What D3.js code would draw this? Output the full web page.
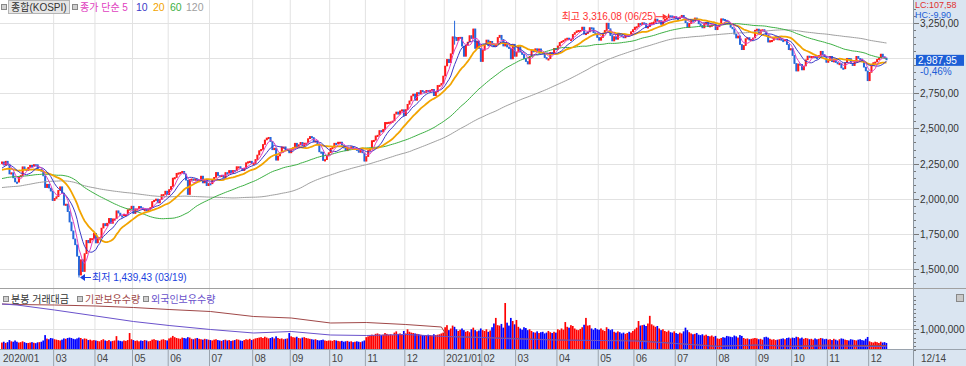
<!DOCTYPE html>
<html>
<head>
<meta charset="utf-8">
<script src="https://cdn.jsdelivr.net/npm/d3@7"></script>
<style>
body { margin: 0; background: #fff; }
svg { display: block; font-family: "Liberation Sans", "Noto Sans CJK KR", sans-serif; }
</style>
</head>
<body>
<svg id="chart" width="966" height="366"></svg>
<script>
// closes before the visible window (only used to warm up the moving averages)
var priorCloses = [2094, 2101, 2074, 2066, 2029, 2038, 2024,
  2017, 1998, 1946, 1917, 1909, 1920, 1943, 1943, 1925, 1938, 1927, 1939, 1960, 1964, 1951, 1948, 1916, 1933, 1960, 1933, 1967,
  1969, 1965, 1988, 2004, 2009, 2019, 2032, 2049, 2062, 2062, 2070, 2091, 2101, 2091, 2096, 2073, 2063, 2049, 2063,
  2031, 2020, 2021, 2046, 2045, 2083, 2081, 2068, 2077, 2060, 2083, 2088, 2088, 2096, 2093, 2080, 2092, 2083, 2063, 2073, 2083,
  2100, 2130, 2144, 2142, 2137, 2142, 2124, 2140, 2122, 2139, 2162, 2160, 2127, 2116, 2126, 2101, 2124, 2122, 2101, 2087, 2087,
  2091, 2068, 2069, 2082, 2102, 2105, 2098, 2106, 2137, 2170, 2168, 2197, 2201, 2195, 2204, 2190, 2204, 2197, 2198,
  2175, 2176, 2155, 2175, 2186, 2206, 2229, 2238, 2230, 2249, 2250];

// daily closes, one array per month
var c2020_01 = [2262, 2239, 2267, 2246, 2176, 2185, 2148, 2119];
var c2020_02 = [2118, 2157, 2165, 2227, 2211, 2201, 2223, 2238, 2232, 2243, 2242, 2208, 2210, 2195, 2162, 2079, 2103, 2076, 2054, 1987];
var c2020_03 = [2002, 2014, 2059, 2085, 2040, 1954, 1962, 1908, 1834, 1771, 1714, 1672, 1591, 1457, 1566, 1482, 1609, 1704, 1686, 1717, 1717, 1754];
var c2020_04 = [1685, 1724, 1725, 1791, 1823, 1807, 1826, 1860, 1825, 1857, 1857, 1914, 1898, 1879, 1878, 1889, 1889, 1922, 1928, 1947];
var c2020_05 = [1895, 1928, 1928, 1945, 1935, 1922, 1924, 1915, 1927, 1937, 1980, 1989, 1998, 1970, 1994, 2029, 2031, 2054, 2029];
var c2020_06 = [2065, 2087, 2147, 2151, 2181, 2184, 2188, 2195, 2176, 2132, 2030, 2138, 2141, 2131, 2141, 2126, 2131, 2161, 2112, 2134, 2093, 2108];
var c2020_07 = [2106, 2135, 2152, 2187, 2165, 2164, 2167, 2150, 2186, 2183, 2201, 2183, 2201, 2198, 2228, 2228, 2216, 2200, 2217, 2256, 2263, 2267, 2249];
var c2020_08 = [2251, 2279, 2311, 2342, 2351, 2386, 2418, 2432, 2437, 2407, 2348, 2360, 2274, 2304, 2329, 2369, 2369, 2342, 2353, 2326];
var c2020_09 = [2349, 2363, 2395, 2368, 2384, 2401, 2375, 2396, 2396, 2427, 2443, 2435, 2406, 2412, 2389, 2333, 2332, 2272, 2278, 2308, 2327];
var c2020_10 = [2358, 2365, 2395, 2391, 2403, 2403, 2380, 2361, 2341, 2360, 2358, 2370, 2355, 2360, 2343, 2330, 2345, 2326, 2267];
var c2020_11 = [2300, 2343, 2357, 2413, 2416, 2447, 2452, 2485, 2475, 2493, 2543, 2543, 2545, 2547, 2553, 2602, 2617, 2601, 2625, 2633, 2591];
var c2020_12 = [2634, 2672, 2696, 2731, 2745, 2700, 2755, 2746, 2770, 2762, 2756, 2771, 2770, 2772, 2778, 2733, 2759, 2806, 2808, 2820, 2873];
var c2021_01 = [2944, 2991, 2968, 3031, 3152, 3148, 3125, 3148, 3149, 3085, 3013, 3092, 3114, 3160, 3140, 3208, 3069, 3122, 3069, 2976];
var c2021_02 = [3056, 3096, 3129, 3087, 3120, 3091, 3084, 3100, 3147, 3163, 3133, 3086, 3107, 3079, 3070, 2994, 3099, 3013];
var c2021_03 = [3043, 3082, 3043, 3026, 2996, 2976, 2958, 3013, 3054, 3045, 3067, 3047, 3066, 3039, 3035, 3004, 2996, 2996, 3041, 3036, 3070, 3061];
var c2021_04 = [3087, 3112, 3120, 3127, 3137, 3143, 3131, 3135, 3169, 3182, 3194, 3198, 3198, 3221, 3171, 3177, 3186, 3217, 3215, 3181, 3174, 3147];
var c2021_05 = [3127, 3147, 3178, 3197, 3249, 3209, 3161, 3122, 3153, 3134, 3173, 3162, 3156, 3144, 3163, 3168, 3165, 3188, 3203];
var c2021_06 = [3221, 3224, 3247, 3240, 3252, 3247, 3216, 3224, 3249, 3252, 3255, 3278, 3264, 3267, 3240, 3263, 3276, 3286, 3302, 3301, 3286, 3296];
var c2021_07 = [3282, 3281, 3293, 3305, 3285, 3252, 3217, 3247, 3271, 3264, 3286, 3276, 3244, 3232, 3215, 3250, 3254, 3224, 3232, 3236, 3243, 3202];
var c2021_08 = [3223, 3237, 3280, 3276, 3270, 3260, 3243, 3220, 3208, 3171, 3143, 3158, 3097, 3060, 3090, 3138, 3146, 3128, 3133, 3144, 3199];
var c2021_09 = [3207, 3175, 3201, 3203, 3187, 3162, 3114, 3125, 3127, 3148, 3153, 3130, 3140, 3127, 3125, 3133, 3097, 3060, 3068];
var c2021_10 = [3019, 2962, 2908, 2959, 2956, 2916, 2944, 2988, 3015, 3006, 3013, 3013, 3007, 3006, 3020, 3049, 3025, 3009, 2970];
var c2021_11 = [2983, 3013, 2975, 2983, 2969, 2960, 2963, 2930, 2924, 2968, 2999, 2997, 2962, 2947, 2971, 3013, 2998, 2994, 2980, 2936, 2909, 2839];
var c2021_12 = [2899, 2945, 2968, 2973, 2991, 3001, 3029, 3010, 3001, 2987.95];

// daily trading value, in units of 10,000
var v2020_01 = [36, 40, 34, 38, 48, 42, 40, 46];
var v2020_02 = [40, 36, 38, 42, 38, 34, 34, 36, 38, 35, 33, 37, 38, 40, 46, 72, 55, 52, 58, 56];
var v2020_03 = [52, 50, 48, 46, 50, 56, 54, 58, 60, 58, 54, 52, 56, 60, 58, 52, 56, 54, 48, 50, 46, 48];
var v2020_04 = [46, 44, 42, 48, 52, 46, 44, 48, 42, 44, 46, 67, 46, 44, 42, 46, 44, 48, 82, 52];
var v2020_05 = [48, 44, 46, 42, 46, 44, 48, 46, 42, 44, 50, 52, 48, 46, 44, 50, 52, 48, 46];
var v2020_06 = [56, 60, 68, 62, 58, 56, 54, 60, 58, 56, 62, 60, 54, 52, 56, 58, 54, 52, 50, 54, 52, 50];
var v2020_07 = [48, 46, 50, 52, 48, 46, 44, 48, 50, 46, 48, 44, 46, 48, 52, 50, 46, 44, 48, 52, 50, 54, 48];
var v2020_08 = [52, 56, 58, 60, 62, 58, 64, 60, 56, 58, 62, 56, 66, 58, 54, 56, 52, 54, 56, 82];
var v2020_09 = [66, 62, 60, 64, 58, 56, 60, 62, 58, 56, 54, 52, 50, 52, 48, 46, 48, 50, 46, 44, 46];
var v2020_10 = [46, 44, 48, 46, 44, 42, 44, 40, 42, 44, 40, 42, 38, 40, 42, 40, 38, 42, 46];
var v2020_11 = [62, 66, 70, 74, 72, 78, 80, 76, 72, 74, 82, 78, 74, 76, 72, 84, 90, 78, 80, 76, 92];
var v2020_12 = [80, 100, 88, 84, 82, 80, 78, 76, 74, 72, 70, 72, 74, 72, 70, 76, 72, 74, 76, 80, 84];
var v2021_01 = [110, 120, 96, 104, 118, 112, 100, 92, 98, 104, 96, 88, 92, 86, 100, 108, 96, 90, 94, 104];
var v2021_02 = [96, 92, 100, 88, 94, 110, 128, 155, 120, 118, 126, 108, 227, 132, 118, 155, 140, 124];
var v2021_03 = [145, 112, 104, 98, 110, 106, 96, 100, 92, 86, 84, 90, 82, 86, 88, 80, 84, 92, 86, 82, 88, 84];
var v2021_04 = [100, 96, 104, 98, 135, 112, 108, 120, 116, 104, 98, 96, 102, 110, 122, 155, 118, 120, 104, 98, 106, 100];
var v2021_05 = [98, 104, 96, 92, 110, 102, 96, 100, 88, 84, 90, 86, 80, 84, 78, 82, 88, 84, 92];
var v2021_06 = [100, 108, 140, 118, 120, 122, 116, 128, 165, 124, 118, 112, 116, 104, 96, 100, 92, 88, 94, 86, 84, 90];
var v2021_07 = [82, 78, 84, 80, 90, 108, 96, 86, 80, 76, 78, 82, 74, 72, 76, 70, 74, 68, 66, 70, 64, 68];
var v2021_08 = [56, 54, 58, 62, 60, 68, 66, 64, 62, 70, 66, 60, 72, 68, 58, 54, 56, 52, 54, 56, 58];
var v2021_09 = [56, 52, 54, 50, 62, 64, 60, 54, 50, 52, 48, 50, 52, 54, 56, 52, 58, 60, 56];
var v2021_10 = [60, 58, 64, 62, 56, 60, 54, 58, 56, 52, 54, 50, 56, 52, 54, 58, 56, 52, 54];
var v2021_11 = [50, 52, 48, 54, 50, 46, 52, 56, 54, 50, 48, 46, 52, 50, 48, 46, 50, 52, 48, 46, 54, 63];
var v2021_12 = [42, 38, 36, 40, 38, 34, 40, 36, 38, 34];

var monthLabels = ["2020/01", "", "03", "04", "05", "06", "07", "08", "09", "10", "11", "12",
                   "2021/01", "02", "03", "04", "05", "06", "07", "08", "09", "10", "11", "12"];

// wicks beyond the body: [month, day in month, high, low]
var notableWicks = [[2, 13, 1591, 1439.43], [5, 10, 2132, 2030], [12, 5, 3266, 3096], [17, 18, 3316.08, 3286]];

// holdings lines in the lower panel: [month, day in month, value]
var instHold = [[0,0,92],[1,0,91],[2,0,90],[3,0,88],[4,0,85],[5,0,81],[6,0,77],[7,0,67],[8,0,64],[9,0,54],[10,0,55],[11,0,51],
                [11,19,46],[12,1,27],[13,0,25],[14,0,23],[15,0,20],[16,0,19],[17,0,20],[18,0,13],[19,0,8],[20,0,10],[21,0,8],[22,0,10],[23,0,9],[23,9,9]];
var foreignHold = [[0,0,92],[1,0,90],[2,0,80],[3,0,68],[4,0,57],[5,0,49],[6,0,41],[7,0,34],[8,0,37],[9,0,30],[10,0,29],[11,0,31],
                   [12,0,27],[13,0,25],[14,0,22],[15,0,20],[16,0,19],[17,0,18],[18,0,13],[19,0,7],[20,0,10],[21,0,7],[22,0,8],[23,0,7],[23,9,7]];

var priceTicks = [1500, 1750, 2000, 2250, 2500, 2750, 3000, 3250];
var maPeriods = [5, 10, 20, 60, 120];
var maColors  = ["#e040c0", "#3a3ac8", "#f2a400", "#3cb043", "#a0a0a0"];

var closeMonths = [c2020_01, c2020_02, c2020_03, c2020_04, c2020_05, c2020_06, c2020_07, c2020_08, c2020_09, c2020_10, c2020_11, c2020_12,
                   c2021_01, c2021_02, c2021_03, c2021_04, c2021_05, c2021_06, c2021_07, c2021_08, c2021_09, c2021_10, c2021_11, c2021_12];
var volMonths = [v2020_01, v2020_02, v2020_03, v2020_04, v2020_05, v2020_06, v2020_07, v2020_08, v2020_09, v2020_10, v2020_11, v2020_12,
                 v2021_01, v2021_02, v2021_03, v2021_04, v2021_05, v2021_06, v2021_07, v2021_08, v2021_09, v2021_10, v2021_11, v2021_12];

var days = [];
var monthStarts = [];
closeMonths.forEach(function(arr, m) {
    monthStarts.push(days.length);
    arr.forEach(function(c, j) {
        days.push({close: c, vol: volMonths[m][j] * 10000});
    });
});
var N = days.length;
var P = priorCloses.length;
var allCloses = priorCloses.concat(days.map(function(d){ return d.close; }));

days.forEach(function(d, i) {
    d.open = allCloses[P + i - 1];
    d.high = Math.max(d.open, d.close);
    d.low  = Math.min(d.open, d.close);
});
notableWicks.forEach(function(w) {
    var d = days[monthStarts[w[0]] + w[1]];
    d.high = Math.max(d.high, w[2]);
    d.low  = Math.min(d.low, w[3]);
});

function movingAvg(n) {
    return days.map(function(d, i) {
        var g = P + i;
        return d3.mean(allCloses.slice(Math.max(0, g - n + 1), g + 1));
    });
}

var svg = d3.select("#chart");
var plotRight = 913;
var panelBg = "#dae5f1";

var x = d3.scaleLinear().domain([0, N - 1]).range([2, 886.5]);
var step = x(1) - x(0);
var y = d3.scaleLinear().domain([1500, 3250]).range([269, 23]);
var yVol = d3.scaleLinear().domain([0, 1000000]).range([350, 329.3]);
var yHold = d3.scaleLinear().domain([0, 100]).range([350, 300]);

var fmt = function(v) { return d3.format(",.2f")(v).replace(".", ","); };

// panels
svg.append("rect").attr("x", plotRight).attr("y", 0).attr("width", 966 - plotRight).attr("height", 349).attr("fill", panelBg);
svg.append("rect").attr("x", 0).attr("y", 349).attr("width", 966).attr("height", 17).attr("fill", panelBg);

// month grid
var monthX = monthStarts.map(function(s){ return x(s) - step / 2; });
monthX.forEach(function(gx, m) {
    if (monthLabels[m] === "") return;
    if (m > 0) {
        svg.append("line").attr("x1", gx).attr("x2", gx).attr("y1", 0).attr("y2", 349).attr("stroke", "#e2e2e2");
        svg.append("line").attr("x1", gx).attr("x2", gx).attr("y1", 349).attr("y2", 366).attr("stroke", "#9aa3ad");
    }
    svg.append("text").attr("x", gx + 2).attr("y", 362).attr("font-size", 10).attr("fill", "#444").text(monthLabels[m]);
});
svg.append("text").attr("x", 921).attr("y", 362).attr("font-size", 10).attr("fill", "#444").text("12/14");

// price grid and right axis
priceTicks.forEach(function(p) {
    svg.append("line").attr("x1", 0).attr("x2", plotRight).attr("y1", Math.round(y(p)) + 0.5).attr("y2", Math.round(y(p)) + 0.5).attr("stroke", "#e2e2e2");
});
d3.range(1400, 3351, 50).forEach(function(p) {
    var major = p % 250 === 0;
    svg.append("line").attr("x1", plotRight).attr("x2", plotRight + (major ? 6 : 3))
        .attr("y1", Math.round(y(p)) + 0.5).attr("y2", Math.round(y(p)) + 0.5).attr("stroke", "#777");
});
var lastClose = c2021_12[c2021_12.length - 1];
priceTicks.forEach(function(p) {
    if (Math.abs(y(p) - y(lastClose)) < 10) return; // hidden under the current price box
    svg.append("text").attr("x", 920).attr("y", y(p) + 4).attr("font-size", 10).attr("fill", "#333").text(fmt(p));
});

// volume grid and axis
svg.append("line").attr("x1", 0).attr("x2", plotRight).attr("y1", Math.round(yVol(1000000)) + 0.5).attr("y2", Math.round(yVol(1000000)) + 0.5).attr("stroke", "#e2e2e2");
d3.range(0, 2600001, 200000).forEach(function(v) {
    var yy = yVol(v);
    if (yy < 292) return;
    svg.append("line").attr("x1", plotRight).attr("x2", plotRight + (v === 1000000 ? 6 : 3))
        .attr("y1", Math.round(yy) + 0.5).attr("y2", Math.round(yy) + 0.5).attr("stroke", "#777");
});
svg.append("text").attr("x", 920).attr("y", yVol(1000000) + 3.5).attr("font-size", 10).attr("fill", "#333").text("1,000,000");
svg.append("rect").attr("x", 956.5).attr("y", 294.5).attr("width", 7).attr("height", 7).attr("fill", "#c8c8c8").attr("stroke", "#888");

// frame lines
svg.append("line").attr("x1", plotRight + 0.5).attr("x2", plotRight + 0.5).attr("y1", 0).attr("y2", 366).attr("stroke", "#8c96a0");
svg.append("line").attr("x1", 0).attr("x2", 966).attr("y1", 288.5).attr("y2", 288.5).attr("stroke", "#a0a0a0");
svg.append("line").attr("x1", 0).attr("x2", 966).attr("y1", 349.5).attr("y2", 349.5).attr("stroke", "#9aa3ad");

// clip paths
svg.append("clipPath").attr("id", "clipMain").append("rect").attr("x", 0).attr("y", 0).attr("width", plotRight).attr("height", 288);
svg.append("clipPath").attr("id", "clipVol").append("rect").attr("x", 0).attr("y", 290).attr("width", plotRight).attr("height", 59);

var mainG = svg.append("g").attr("clip-path", "url(#clipMain)");
var volG = svg.append("g").attr("clip-path", "url(#clipVol)");

// candles
var upColor = "#ff1a1a", downColor = "#2468dc";
days.forEach(function(d, i) {
    var cx = x(i);
    var col = d.close >= d.open ? upColor : downColor;
    mainG.append("line").attr("x1", cx).attr("x2", cx).attr("y1", y(d.high)).attr("y2", y(d.low)).attr("stroke", col).attr("stroke-width", 1);
    var top = y(Math.max(d.open, d.close));
    var h = Math.max(1.5, Math.abs(y(d.open) - y(d.close)));
    mainG.append("rect").attr("x", cx - 1).attr("y", top - 0.3).attr("width", 2).attr("height", h + 0.6).attr("fill", col);
});

// moving averages
var maLine = d3.line().x(function(v, i){ return x(i); }).y(function(v){ return y(v); });
[4, 3, 2, 1, 0].forEach(function(k) {
    mainG.append("path").attr("d", maLine(movingAvg(maPeriods[k])))
        .attr("fill", "none").attr("stroke", maColors[k]).attr("stroke-width", k === 2 ? 1.8 : 1);
});

// annotations
var hiIdx = monthStarts[17] + 18, loIdx = monthStarts[2] + 13;
var hiY = y(3316.08) + 3, loY = y(1439.43);
mainG.append("text").attr("x", x(hiIdx) - 107).attr("y", hiY + 3.5).attr("font-size", 10).attr("fill", "#ff3030")
    .text("최고 " + fmt(3316.08) + " (06/25)");
mainG.append("line").attr("x1", x(hiIdx) - 13).attr("x2", x(hiIdx) - 4).attr("y1", hiY).attr("y2", hiY).attr("stroke", "#ff3030");
mainG.append("path").attr("d", d3.line()([[x(hiIdx) - 1, hiY], [x(hiIdx) - 6, hiY - 3], [x(hiIdx) - 6, hiY + 3]])).attr("fill", "#ff3030");
mainG.append("path").attr("d", d3.line()([[x(loIdx) + 1, loY], [x(loIdx) + 6, loY - 3.5], [x(loIdx) + 6, loY + 3.5]])).attr("fill", "#1a3fe0");
mainG.append("line").attr("x1", x(loIdx) + 5).attr("x2", x(loIdx) + 12).attr("y1", loY).attr("y2", loY).attr("stroke", "#1a3fe0");
mainG.append("text").attr("x", x(loIdx) + 13).attr("y", loY + 3.5).attr("font-size", 10).attr("fill", "#1a3fe0")
    .text("최저 " + fmt(1439.43) + " (03/19)");

// volume bars
days.forEach(function(d, i) {
    volG.append("rect").attr("x", x(i) - step / 2).attr("y", yVol(d.vol)).attr("width", step * 0.9)
        .attr("height", yVol(0) - yVol(d.vol)).attr("fill", d.close >= d.open ? "#ff0000" : "#0000ff");
});

// holdings lines
var holdLine = d3.line().x(function(h){ return x(monthStarts[h[0]] + h[1]); }).y(function(h){ return yHold(h[2]); });
volG.append("path").attr("d", holdLine(instHold)).attr("fill", "none").attr("stroke", "#a04848").attr("stroke-width", 1);
volG.append("path").attr("d", holdLine(foreignHold)).attr("fill", "none").attr("stroke", "#6a52cc").attr("stroke-width", 1);

// top legend
function legendBox(lx, ly) {
    svg.append("rect").attr("x", lx + 0.5).attr("y", ly + 0.5).attr("width", 5).attr("height", 5).attr("fill", "#d0d0d0").attr("stroke", "#888");
}
legendBox(1, 4);
svg.append("rect").attr("x", 8.5).attr("y", 0.5).attr("width", 61).attr("height", 13).attr("fill", "#e6e6e6").attr("stroke", "#b4b4b4");
svg.append("text").attr("x", 11).attr("y", 11).attr("font-size", 10).attr("fill", "#333").text("종합(KOSPI)");
legendBox(72, 4);
svg.append("text").attr("x", 80).attr("y", 11).attr("font-size", 10).attr("fill", "#e040c0").text("종가 단순 5");
var legX = [136, 153, 170, 186];
[1, 2, 3, 4].forEach(function(k, j) {
    svg.append("text").attr("x", legX[j]).attr("y", 11).attr("font-size", 10.5).attr("fill", maColors[k]).text(maPeriods[k]);
});

// volume legend
legendBox(3, 296);
svg.append("text").attr("x", 11).attr("y", 303).attr("font-size", 10).attr("fill", "#333").text("분봉 거래대금");
legendBox(77, 296);
svg.append("text").attr("x", 85).attr("y", 303).attr("font-size", 10).attr("fill", "#a04848").text("기관보유수량");
legendBox(143, 296);
svg.append("text").attr("x", 151).attr("y", 303).attr("font-size", 10).attr("fill", "#6a52cc").text("외국인보유수량");

// right side info
svg.append("rect").attr("x", plotRight + 3).attr("y", y(lastClose) - 5).attr("width", 48).attr("height", 11).attr("fill", "#1c5ed6");
svg.append("text").attr("x", 918).attr("y", y(lastClose) + 4).attr("font-size", 10).attr("fill", "#fff").text(fmt(lastClose));
svg.append("text").attr("x", 920).attr("y", y(lastClose) + 15).attr("font-size", 10).attr("fill", "#1c5ed6").text("-0,46%");
svg.append("text").attr("x", 915).attr("y", 7.5).attr("font-size", 9).attr("fill", "#e03030").text("LC:107,58");
svg.append("text").attr("x", 915).attr("y", 17.5).attr("font-size", 9).attr("fill", "#1c5ed6").text("HC:-9,90");
</script>
</body>
</html>
